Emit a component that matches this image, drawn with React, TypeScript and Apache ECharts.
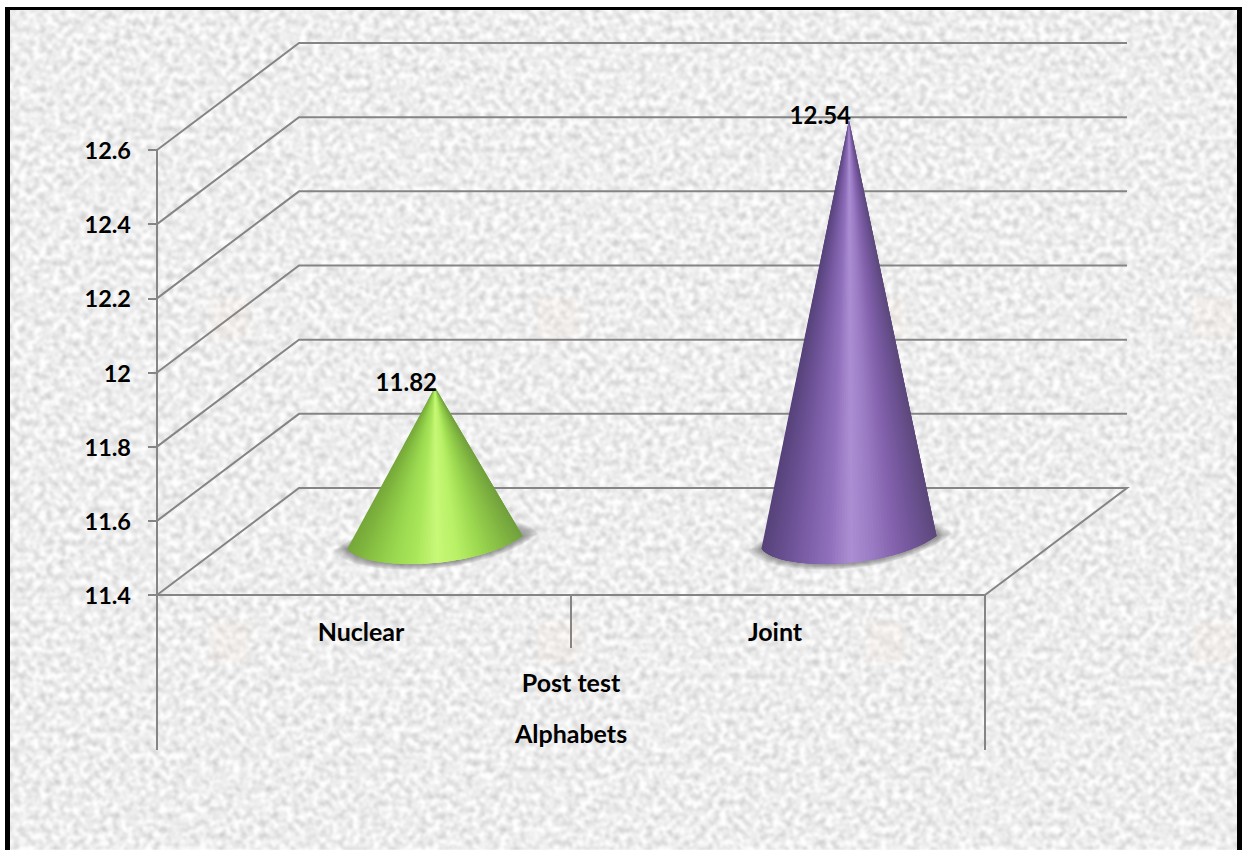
import React, { useEffect, useRef } from "react";
import * as echarts from "echarts";

const categories = ["Nuclear", "Joint"];
const groupLabel = ["Post test"];
const axisTitle = "Alphabets";
const values = [11.82, 12.54];
const levels = [11.4, 11.6, 11.8, 12, 12.2, 12.4, 12.6];
const yMin = 11.4;
const yMax = 12.6;
const greenRamp = ["#76a83a", "#88c243", "#9ad850", "#a9e65a", "#c8f878", "#b8f066", "#9cd850", "#86bc44", "#6f9e3c"];
const purpleRamp = ["#57437a", "#6a5093", "#7d5fa8", "#8f6fbb", "#ab8ed3", "#9a7cc4", "#8563ae", "#6f5497", "#5b4779"];
const tileColumns = [210, 538, 866, 1194];
const tileRows = [298, 622];

const WIDTH = 1246;
const HEIGHT = 850;
const LINE = "#858585";
const LINE_WIDTH = 2;
const DEPTH_X = 142;
const DEPTH_Y = -107;
const FONT = "Lato, 'Open Sans', sans-serif";

function hexToRgb(h: string) {
  return [1, 3, 5].map((i) => parseInt(h.slice(i, i + 2), 16));
}

function rampColor(ramp: string[], t: number) {
  const p = Math.min(0.9999, Math.max(0, t)) * (ramp.length - 1);
  const i = Math.floor(p);
  const a = hexToRgb(ramp[i]);
  const b = hexToRgb(ramp[i + 1]);
  const f = p - i;
  return `rgb(${a.map((v, k) => Math.round(v + (b[k] - v) * f)).join(",")})`;
}

function bezier(p: number[][], t: number) {
  const u = 1 - t;
  const c = [u * u * u, 3 * u * u * t, 3 * u * t * t, t * t * t];
  return [0, 1].map((k) => c[0] * p[0][k] + c[1] * p[1][k] + c[2] * p[2][k] + c[3] * p[3][k]);
}

// Back wall, side wall and floor lines, one polyline per value level.
function renderWall(_params: any, api: any) {
  const level = api.value(0);
  const [x0, y] = api.coord([0, level]);
  const size = api.size([1, 0]);
  const x1 = x0 - size[0] / 2;
  const width = size[0] * categories.length;
  const points = [
    [x1, y],
    [x1 + DEPTH_X, y + DEPTH_Y],
    [x1 + width + DEPTH_X, y + DEPTH_Y],
  ];
  if (level === yMin) points.push([x1 + width, y]);
  return {
    type: "polyline",
    shape: { points },
    style: { stroke: LINE, lineWidth: LINE_WIDTH, fill: "none" },
  };
}

// A cone standing half way into the floor, shaded by overlapping fan facets.
function renderCone(params: any, api: any) {
  const cat = api.value(0);
  const val = api.value(1);
  const top = api.coord([cat, val]);
  const foot = api.coord([cat, yMin]);
  const ramp = params.dataIndex === 0 ? greenRamp : purpleRamp;
  const cx = foot[0] + DEPTH_X / 2;
  const cy = foot[1] + DEPTH_Y / 2 + 1.5;
  const apex = [cx, top[1] + DEPTH_Y / 2 + 1.5];
  const rim = [
    [cx - 87.5, cy + 5.5],
    [cx - 74, cy + 27],
    [cx + 36, cy + 29],
    [cx + 87.5, cy - 7],
  ];
  const rimBack = [
    [cx + 87.5, cy - 7],
    [cx + 74, cy - 27],
    [cx - 36, cy - 29],
    [cx - 87.5, cy + 5.5],
  ];
  const children: any[] = [];

  // Soft floor shadow: stacked translucent outlines growing outward from the base.
  const rings = 10;
  for (let k = rings; k >= 1; k--) {
    const sx = 1 + 0.017 * k;
    const sy = 1 + 0.028 * k;
    const pt = (p: number[]) => `${cx + 1 + (p[0] - cx) * sx} ${cy + (p[1] - cy) * sy}`;
    const seg = (p: number[][]) => `C${pt(p[1])} ${pt(p[2])} ${pt(p[3])}`;
    children.push({
      type: "path",
      shape: { pathData: `M${pt(rim[0])}${seg(rim)}${seg(rimBack)}Z` },
      style: { fill: "#555555", opacity: 0.08 },
    });
  }

  const facets = 70;
  for (let i = 0; i < facets; i++) {
    const a = bezier(rim, i / facets);
    const b = bezier(rim, Math.min(1, (i + 1) / facets));
    const c = bezier(rim, Math.min(1, (i + 2) / facets));
    const d = bezier(rim, Math.min(1, (i + 3) / facets));
    children.push({
      type: "polygon",
      shape: { points: [apex, a, b, c, d] },
      style: { fill: rampColor(ramp, (a[0] - (cx - 87.5)) / 175) },
    });
  }
  children.push({
    type: "text",
    style: {
      x: apex[0] + 2,
      y: apex[1] - 6,
      text: val.toFixed(2),
      align: "right",
      verticalAlign: "middle",
      fill: "#000",
      font: `bold 24px ${FONT}`,
    },
  });
  return { type: "group", children };
}

function buildOption() {
  const labelStyle = { color: "#000", fontFamily: FONT, fontWeight: "bold" as const, fontSize: 25 };
  const axisStroke = { color: LINE, width: LINE_WIDTH };
  return {
    animation: false,
    backgroundColor: "transparent",
    grid: { left: 157, right: WIDTH - 985, top: 150, bottom: HEIGHT - 595, containLabel: false },
    xAxis: [
      {
        type: "category",
        data: categories,
        position: "bottom",
        axisLine: { show: true, lineStyle: axisStroke },
        axisTick: { show: true, alignWithLabel: false, length: 53, lineStyle: axisStroke },
        axisLabel: { ...labelStyle, margin: 23, padding: [0, 6, 0, 0] },
      },
      {
        type: "category",
        data: groupLabel,
        position: "bottom",
        axisLine: { show: false },
        axisTick: { show: true, alignWithLabel: false, length: 155, lineStyle: axisStroke },
        axisLabel: { ...labelStyle, margin: 74 },
        name: axisTitle,
        nameLocation: "middle",
        nameGap: 125,
        nameTextStyle: labelStyle,
      },
    ],
    yAxis: {
      type: "value",
      min: yMin,
      max: yMax,
      interval: 0.2,
      axisLine: { show: true, lineStyle: axisStroke },
      axisTick: { show: true, length: 9, lineStyle: axisStroke },
      splitLine: { show: false },
      axisLabel: {
        ...labelStyle,
        fontSize: 23.5,
        margin: 26,
        formatter: (v: number) => String(Number(v.toFixed(1))),
      },
    },
    series: [
      {
        type: "custom",
        name: "walls",
        coordinateSystem: "cartesian2d",
        renderItem: renderWall,
        data: levels.map((v) => [v]),
        encode: { y: 0 },
        silent: true,
        clip: false,
        z: 1,
      },
      {
        type: "custom",
        name: "Post test",
        coordinateSystem: "cartesian2d",
        renderItem: renderCone,
        data: values.map((v, i) => [i, v]),
        encode: { x: 0, y: 1 },
        clip: false,
        z: 5,
      },
    ],
  };
}

export default function App() {
  const ref = useRef<HTMLDivElement>(null);
  useEffect(() => {
    if (!ref.current) return;
    const chart = echarts.init(ref.current, undefined, { renderer: "svg", width: WIDTH, height: HEIGHT });
    chart.setOption(buildOption() as any);
    return () => chart.dispose();
  }, []);
  return (
    <div style={{ position: "absolute", left: 0, top: 0, width: WIDTH, height: HEIGHT, background: "#fff", overflow: "hidden" }}>
      <svg width={WIDTH} height={HEIGHT} style={{ position: "absolute", left: 0, top: 0 }}>
        <defs>
          <filter id="paper" x="0" y="0" width="100%" height="100%" colorInterpolationFilters="sRGB">
            <feTurbulence type="fractalNoise" baseFrequency="0.15" numOctaves={3} seed={7} />
            <feColorMatrix
              type="matrix"
              values="0.36 0 0 0 0.75  0.36 0 0 0 0.75  0.36 0 0 0 0.75  0 0 0 0 1"
            />
            <feGaussianBlur stdDeviation="0.9" />
          </filter>
          <filter id="soft" x="-20%" y="-20%" width="140%" height="140%">
            <feGaussianBlur stdDeviation="2" />
          </filter>
        </defs>
        <rect x={8} y={8} width={1231} height={842} filter="url(#paper)" />
        {tileRows.map((y) =>
          tileColumns.map((x) => (
            <rect key={`${x}-${y}`} x={x} y={y} width={40} height={40} fill="#f8e6da" opacity={0.2} filter="url(#soft)" />
          ))
        )}
        <rect x={5} y={7} width={5} height={843} fill="#000" />
        <rect x={5} y={7} width={1237} height={3} fill="#000" />
        <rect x={1237} y={7} width={5} height={843} fill="#000" />
      </svg>
      <div ref={ref} style={{ position: "absolute", left: 0, top: 0, width: WIDTH, height: HEIGHT }} />
    </div>
  );
}
